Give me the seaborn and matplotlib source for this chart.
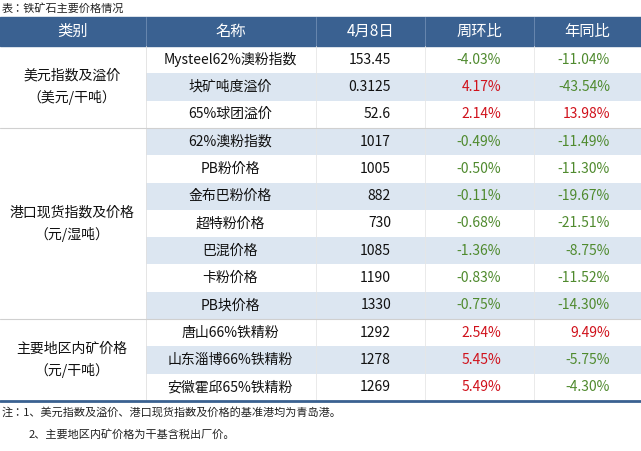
import matplotlib
matplotlib.use("Agg")
import matplotlib.pyplot as plt
import seaborn as sns
from matplotlib.patches import Rectangle

sns.set_theme(style="white")
plt.rcParams["font.family"] = ["Noto Sans CJK SC", "Noto Sans CJK JP", "Noto Sans CJK TC",
                               "Noto Sans CJK KR", "DejaVu Sans"]

# ─── Données ───
headers = ["类别", "名称", "4月8日", "周环比", "年同比"]
groups = [("美元指数及溢价\n（美元/干吨）", 3),
          ("港口现货指数及价格\n（元/湿吨）", 7),
          ("主要地区内矿价格\n（元/干吨）", 3)]
names = ["Mysteel62%澳粉指数", "块矿吨度溢价", "65%球团溢价",
         "62%澳粉指数", "PB粉价格", "金布巴粉价格", "超特粉价格", "巴混价格", "卡粉价格", "PB块价格",
         "唐山66%铁精粉", "山东淄博66%铁精粉", "安徽霍邱65%铁精粉"]
prices = ["153.45", "0.3125", "52.6", "1017", "1005", "882", "730", "1085", "1190", "1330",
          "1292", "1278", "1269"]
wow = [-4.03, 4.17, 2.14, -0.49, -0.50, -0.11, -0.68, -1.36, -0.83, -0.75, 2.54, 5.45, 5.49]
yoy = [-11.04, -43.54, 13.98, -11.49, -11.30, -19.67, -21.51, -8.75, -11.52, -14.30, 9.49, -5.75, -4.30]

HEAD_BLUE = "#3a6191"
STRIPE = "#dce6f1"
RED = "#d0111b"
GREEN = "#4f8a2e"

fig = plt.figure(figsize=(6.41, 4.51), dpi=100)
ax = fig.add_axes([0, 0, 1, 1])
ax.set_xlim(0, 641)
ax.set_ylim(451, 0)
ax.axis("off")

col_x = [0, 146, 316, 425, 534, 641]
top, head_h, row_h = 17, 29, 27.3
y0 = top + head_h

ax.text(2, 8, "表：铁矿石主要价格情况", fontsize=8, va="center", ha="left", color="#222")

# header
ax.add_patch(Rectangle((0, top), 641, head_h, color=HEAD_BLUE))
for i, h in enumerate(headers):
    ax.text((col_x[i] + col_x[i + 1]) / 2, top + head_h / 2, h, color="white",
            fontsize=11, ha="center", va="center")
    if i > 0:
        ax.plot([col_x[i]] * 2, [top, top + head_h], color="#6f8db3", lw=0.6)

# rows
for r in range(len(names)):
    y = y0 + r * row_h
    if r % 2 == 1:
        ax.add_patch(Rectangle((col_x[1], y), 641 - col_x[1], row_h, color=STRIPE, lw=0))
    yc = y + row_h / 2
    ax.text(230, yc, names[r], fontsize=10, ha="center", va="center", color="#111")
    ax.text(391, yc, prices[r], fontsize=10, ha="right", va="center", color="#111")
    ax.text(501, yc, f"{wow[r]:.2f}%", fontsize=10, ha="right", va="center",
            color=RED if wow[r] > 0 else GREEN)
    ax.text(610, yc, f"{yoy[r]:.2f}%", fontsize=10, ha="right", va="center",
            color=RED if yoy[r] > 0 else GREEN)

for c in col_x[2:5]:
    ax.plot([c, c], [y0, y0 + len(names) * row_h], color="#e6e6e6", lw=0.6)
ax.plot([col_x[1]] * 2, [y0, y0 + len(names) * row_h], color="#e0e0e0", lw=0.6)

start = 0
for label, n in groups:
    ya = y0 + start * row_h
    yb = ya + n * row_h
    ax.text(72, (ya + yb) / 2, label, fontsize=10, ha="center", va="center",
            color="#111", linespacing=1.6)
    if start > 0:
        ax.plot([0, 641], [ya, ya], color="#d0d0d0", lw=0.8)
    start += n

y_end = y0 + len(names) * row_h
ax.plot([0, 641], [y_end, y_end], color=HEAD_BLUE, lw=2)

ax.text(2, 412, "注：1、美元指数及溢价、港口现货指数及价格的基准港均为青岛港。", fontsize=8,
        ha="left", va="center", color="#222")
ax.text(29, 434, "2、主要地区内矿价格为干基含税出厂价。", fontsize=8,
        ha="left", va="center", color="#222")

fig.savefig("out.png", dpi=100)
